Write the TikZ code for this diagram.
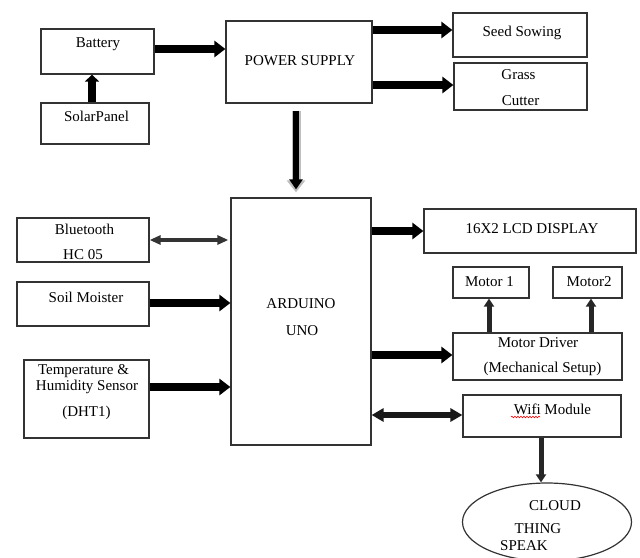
\documentclass[tikz,border=0pt]{standalone}
\usepackage{fontspec}
\setmainfont{Liberation Serif}
\usetikzlibrary{arrows.meta,shapes.geometric,decorations.pathmorphing}
\begin{document}
\begin{tikzpicture}[x=1pt,y=-1pt,
  box/.style={draw=black!80, line width=1.2pt, inner sep=0pt, rectangle},
  txt/.style={inner sep=0pt, anchor=base, font=\fontsize{15}{17}\selectfont},
  thk/.style={line width=8pt, -{Triangle[length=11pt,width=16pt]}},
  med/.style={line width=5pt, black!85, -{Triangle[length=8pt,width=10pt]}},
  dbl/.style={line width=3.5pt, black!80, {Triangle[length=11pt,width=9pt]}-{Triangle[length=11pt,width=9pt]}},
  dblk/.style={line width=6pt, black!90, {Triangle[length=12pt,width=13pt]}-{Triangle[length=12pt,width=13pt]}}]
\useasboundingbox (0,0) rectangle (640,557);
\clip (0,0) rectangle (640,557);

% boxes
\node[box, minimum width=113pt, minimum height=45pt] (bat) at (97.5,51.5) {};
\node[box, minimum width=108pt, minimum height=41pt] (solar) at (95,123.5) {};
\node[box, minimum width=146pt, minimum height=82pt] (ps) at (299,62) {};
\node[box, minimum width=134pt, minimum height=44pt] (seed) at (520,35) {};
\node[box, minimum width=133pt, minimum height=47pt] (grass) at (520.5,86.5) {};
\node[box, minimum width=140pt, minimum height=247pt] (ard) at (301,321.5) {};
\node[box, minimum width=132pt, minimum height=44pt] (bt) at (83,240) {};
\node[box, minimum width=132pt, minimum height=44pt] (soil) at (83,304) {};
\node[box, minimum width=125pt, minimum height=78pt] (temp) at (86.5,399) {};
\node[box, minimum width=212pt, minimum height=44pt] (lcd) at (530,231) {};
\node[box, minimum width=76pt, minimum height=31pt] (m1) at (491,282.5) {};
\node[box, minimum width=69pt, minimum height=31pt] (m2) at (587.5,282.5) {};
\node[box, minimum width=169pt, minimum height=47pt] (md) at (537.5,356.5) {};
\node[box, minimum width=158pt, minimum height=42pt] (wifi) at (542,416) {};
\node[draw=black!80, line width=1.2pt, ellipse, inner sep=0pt, minimum width=169pt, minimum height=78pt] (cloud) at (547,522) {};

% texts
\node[txt] (tbat) at (98,47) {Battery};
\node[txt] (tsolar) at (96.5,121.5) {SolarPanel};
\node[txt] (tps) at (300,65) {POWER SUPPLY};
\node[txt] (tseed) at (522,36.5) {Seed Sowing};
\node[txt] (tgrass1) at (518.5,79) {Grass};
\node[txt] (tgrass2) at (520.5,105) {Cutter};
\node[txt] (tbt1) at (84.5,234) {Bluetooth};
\node[txt] (tbt2) at (83,259) {HC 05};
\node[txt] (tsoil) at (86,302) {Soil Moister};
\node[txt] (tard1) at (301,308) {ARDUINO};
\node[txt] (tard2) at (302,335) {UNO};
\node[txt] (ttemp1) at (83.5,374) {Temperature \&};
\node[txt] (ttemp2) at (87,390) {Humidity Sensor};
\node[txt] (ttemp3) at (86.5,416) {(DHT1)};
\node[txt] (tlcd) at (532,233) {16X2 LCD DISPLAY};
\node[txt] (tm1) at (489.5,286) {Motor 1};
\node[txt] (tm2) at (589,286) {Motor2};
\node[txt] (tmd1) at (538,347) {Motor Driver};
\node[txt] (tmd2) at (542.5,372) {(Mechanical Setup)};
\node[txt] (twifi) at (552.5,414) {Wifi Module};
\node[txt] (tc1) at (555,510.5) {CLOUD};
\node[txt] (tc2) at (538,533) {THING};
\node[txt] (tc3) at (524,550.5) {SPEAK};
\draw[red, line width=0.6pt, decorate, decoration={snake, amplitude=0.8pt, segment length=3pt}] (511,417) -- (540,417);

% connectors
\draw[thk, -{Triangle[length=7pt,width=14pt]}] (92,0 |- solar.north) -- (92,0 |- bat.south);
\draw[thk] (bat.east |- 0,49) -- (ps.west |- 0,49);
\draw[thk] (ps.east |- 0,30) -- (seed.west |- 0,30);
\draw[thk] (ps.east |- 0,85) -- (grass.west |- 0,85);
\draw[black!25, line width=9pt, shorten <=7pt, shorten >=5pt, -{Triangle[length=12pt,width=18pt]}] (296,0 |- ps.south) -- (296,0 |- ard.north);
\draw[line width=6pt, shorten <=7pt, shorten >=8pt, -{Triangle[length=10pt,width=13pt]}] (296,0 |- ps.south) -- (296,0 |- ard.north);
\draw[dbl, shorten >=2pt] (bt.east |- 0,240) -- (ard.west |- 0,240);
\draw[thk] (soil.east |- 0,303) -- (ard.west |- 0,303);
\draw[thk] (temp.east |- 0,387) -- (ard.west |- 0,387);
\draw[thk] (ard.east |- 0,231) -- (lcd.west |- 0,231);
\draw[thk] (ard.east |- 0,355) -- (md.west |- 0,355);
\draw[med] (489,0 |- md.north) -- (489,0 |- m1.south);
\draw[med] (591,0 |- md.north) -- (591,0 |- m2.south);
\draw[dblk] (ard.east |- 0,415) -- (wifi.west |- 0,415);
\draw[med] (541,0 |- wifi.south) -- (541,0 |- cloud.north);
\end{tikzpicture}
\end{document}
